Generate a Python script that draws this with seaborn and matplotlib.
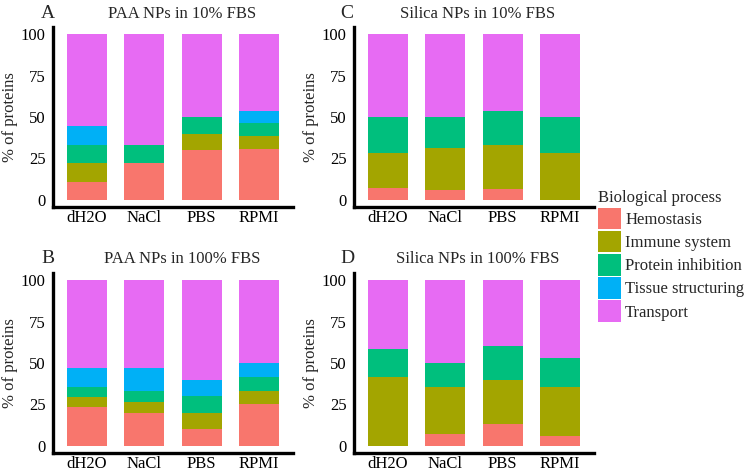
import pandas as pd
import matplotlib
matplotlib.use("Agg")
import matplotlib.pyplot as plt
from matplotlib.patches import Patch
import seaborn as sns

solutions = ["dH2O", "NaCl", "PBS", "RPMI"]
processes = ["Hemostasis", "Immune system", "Protein inhibition",
             "Tissue structuring", "Transport"]
colors = ["#F8766D", "#A3A500", "#00BF7D", "#00B0F6", "#E76BF3"]

# % of proteins per biological process, in the order dH2O, NaCl, PBS, RPMI
paa_10 = {
    "Hemostasis": [11.1, 22.2, 30.0, 30.8],
    "Immune system": [11.1, 0.0, 10.0, 7.7],
    "Protein inhibition": [11.1, 11.1, 10.0, 7.7],
    "Tissue structuring": [11.1, 0.0, 0.0, 7.7],
    "Transport": [55.6, 66.7, 50.0, 46.1],
}
paa_100 = {
    "Hemostasis": [23.5, 20.0, 10.0, 25.0],
    "Immune system": [5.9, 6.7, 10.0, 8.3],
    "Protein inhibition": [5.9, 6.7, 10.0, 8.3],
    "Tissue structuring": [11.8, 13.3, 10.0, 8.3],
    "Transport": [52.9, 53.3, 60.0, 50.1],
}
silica_10 = {
    "Hemostasis": [7.1, 6.2, 6.7, 0.0],
    "Immune system": [21.4, 25.0, 26.7, 28.6],
    "Protein inhibition": [21.4, 18.8, 20.0, 21.4],
    "Tissue structuring": [0.0, 0.0, 0.0, 0.0],
    "Transport": [50.1, 50.0, 46.6, 50.0],
}
silica_100 = {
    "Hemostasis": [0.0, 7.1, 13.3, 5.9],
    "Immune system": [41.7, 28.6, 26.7, 29.4],
    "Protein inhibition": [16.7, 14.3, 20.0, 17.6],
    "Tissue structuring": [0.0, 0.0, 0.0, 0.0],
    "Transport": [41.6, 50.0, 40.0, 47.1],
}

sns.set_style("white")
plt.rcParams["font.family"] = ["Liberation Serif", "DejaVu Serif"]

W, H = 748, 475
fig = plt.figure(figsize=(W / 100, H / 100), dpi=100)


def px_axes(left, top, width, height):
    return fig.add_axes([left / W, 1 - (top + height) / H, width / W, height / H])


def to_long(panel):
    rows = []
    for p in processes:
        for s, v in zip(solutions, panel[p]):
            rows.append({"solution": s, "process": p, "pct": v})
    df = pd.DataFrame(rows)
    df["cum"] = df.groupby("solution")["pct"].cumsum()
    return df


def stacked(ax, panel):
    df = to_long(panel)
    # draw from the top layer down so lower layers sit over the taller bars
    for p, c in reversed(list(zip(processes, colors))):
        sub = df[df["process"] == p]
        sns.barplot(data=sub, x="solution", y="cum", order=solutions, color=c,
                    saturation=1, width=0.7, linewidth=0, errorbar=None, ax=ax)
    ax.set_xlim(-0.6, 3.6)
    ax.set_ylim(-4, 104)
    ax.set_yticks([0, 25, 50, 75, 100])
    ax.set_xlabel("")
    ax.set_ylabel("")
    for s in ["top", "right"]:
        ax.spines[s].set_visible(False)
    for s in ["left", "bottom"]:
        ax.spines[s].set_linewidth(2.4)
        ax.spines[s].set_color("black")
        ax.spines[s].set_capstyle("projecting")
    ax.tick_params(axis="y", direction="out", length=3.5, width=1.2,
                   color="black", labelsize=12, pad=1.5, labelcolor="black")
    ax.tick_params(axis="x", length=0, labelsize=12, pad=2.5,
                   labelcolor="black")


panels = [
    (paa_10, 52.6, 27.4, "A", 41, 18, "PAA NPs in 10% FBS", 182, 10),
    (silica_10, 353.6, 27.4, "C", 340, 18, "Silica NPs in 10% FBS", 478, 311),
    (paa_100, 52.6, 273.4, "B", 41, 263, "PAA NPs in 100% FBS", 182, 10),
    (silica_100, 353.6, 273.4, "D", 340, 263, "Silica NPs in 100% FBS", 478, 311),
]

for data, left, top, letter, lx, ty, title, tx, yx in panels:
    ax = px_axes(left, top, 240.7, 179.2)
    stacked(ax, data)
    fig.text(lx / W, 1 - ty / H, letter, fontsize=14, ha="left", va="baseline")
    fig.text(tx / W, 1 - ty / H, title, fontsize=12, ha="center", va="baseline")
    fig.text(yx / W, 1 - (top + 90) / H, "% of proteins", fontsize=12,
             rotation=90, ha="center", va="center")

handles = [Patch(facecolor=c, edgecolor="none", label=p)
           for p, c in zip(processes, colors)]
fig.legend(handles=handles, title="Biological process", loc="upper left",
           bbox_to_anchor=(598 / W, 1 - 190 / H), frameon=False, fontsize=12,
           title_fontsize=12, borderpad=0, borderaxespad=0, handlelength=1.38,
           handleheight=1.61, labelspacing=0.1, handletextpad=0.25,
           alignment="left")

fig.savefig("out.png", dpi=100)
